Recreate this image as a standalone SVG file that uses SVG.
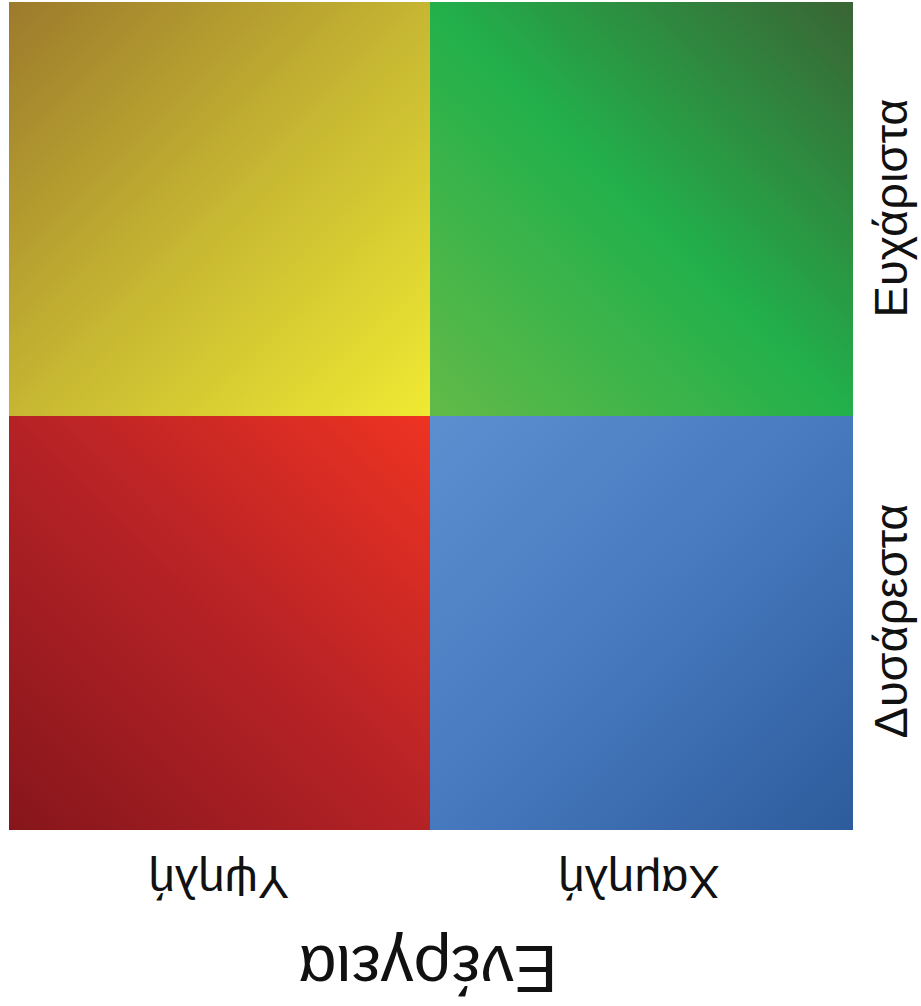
<svg xmlns="http://www.w3.org/2000/svg" width="921" height="1006" viewBox="0 0 921 1006">
  <style>
    .lbl { font-family: "Liberation Sans", Arial, sans-serif; fill: #111; text-anchor: middle; }
    .side { font-size: 47px; }
    .bot { font-size: 47px; }
    .axis { font-size: 66px; }
  </style>
  <defs>
    <linearGradient id="gYellow" x1="0" y1="0" x2="1" y2="1">
      <stop offset="0" stop-color="#9c7a2c"/>
      <stop offset="0.5" stop-color="#c6b632"/>
      <stop offset="1" stop-color="#f0ea32"/>
    </linearGradient>
    <linearGradient id="gGreen" x1="0" y1="1" x2="1" y2="0">
      <stop offset="0" stop-color="#62ba48"/>
      <stop offset="0.5" stop-color="#22b04b"/>
      <stop offset="1" stop-color="#3a6434"/>
    </linearGradient>
    <linearGradient id="gRed" x1="0" y1="1" x2="1" y2="0">
      <stop offset="0" stop-color="#86161b"/>
      <stop offset="0.5" stop-color="#b52226"/>
      <stop offset="1" stop-color="#ee3322"/>
    </linearGradient>
    <linearGradient id="gBlue" x1="0" y1="0" x2="1" y2="1">
      <stop offset="0" stop-color="#5c8fd0"/>
      <stop offset="0.5" stop-color="#4779bf"/>
      <stop offset="1" stop-color="#2d5c9c"/>
    </linearGradient>
  </defs>
  <rect width="921" height="1006" fill="#ffffff"/>
  <g id="quadrant-yellow">
    <rect x="9" y="2" width="421" height="414" fill="url(#gYellow)"/>
  </g>
  <g id="quadrant-green">
    <rect x="430" y="2" width="423" height="414" fill="url(#gGreen)"/>
  </g>
  <g id="quadrant-red">
    <rect x="9" y="416" width="421" height="414" fill="url(#gRed)"/>
  </g>
  <g id="quadrant-blue">
    <rect x="430" y="416" width="423" height="414" fill="url(#gBlue)"/>
  </g>
  <g id="connectors"/>
  <g id="label-pleasant">
    <text class="lbl side" transform="translate(907,208) rotate(-90)">Ευχάριστα</text>
  </g>
  <g id="label-unpleasant">
    <text class="lbl side" transform="translate(907,621) rotate(-90)">Δυσάρεστα</text>
  </g>
  <g id="label-high">
    <text class="lbl bot" transform="translate(219,866) rotate(180)">Υψηλή</text>
  </g>
  <g id="label-low">
    <text class="lbl bot" transform="translate(639,866) rotate(180)">Χαμηλή</text>
  </g>
  <g id="label-energy">
    <text class="lbl axis" transform="translate(428,946) rotate(180)">Ενέργεια</text>
  </g>
</svg>
